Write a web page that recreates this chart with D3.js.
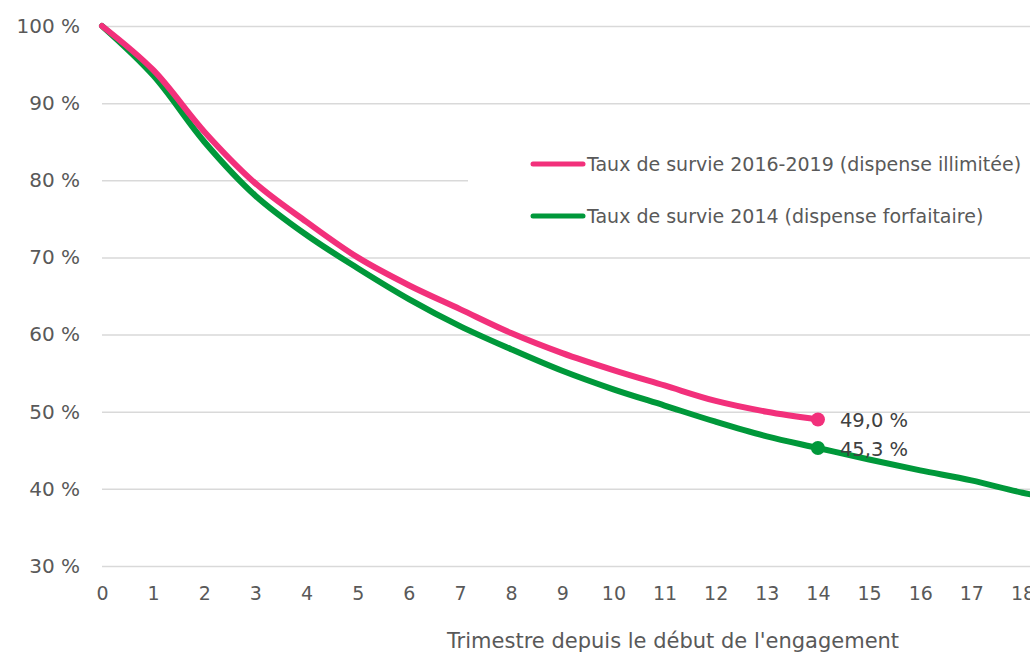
<!DOCTYPE html>
<html>
<head>
<meta charset="utf-8">
<script src="https://cdn.jsdelivr.net/npm/d3@7"></script>
<style>
  html, body { margin: 0; padding: 0; background: #fff; }
  svg { display: block; font-family: "DejaVu Sans", Verdana, sans-serif; }
</style>
</head>
<body>
<svg id="chart" width="1030" height="653"></svg>
<script>
// Survival rate per quarter since the start of the engagement
const quarters = [0, 1, 2, 3, 4, 5, 6, 7, 8, 9, 10, 11, 12, 13, 14, 15, 16, 17, 18, 19];
const survie2016_2019 = [100, 94.3, 86.3, 79.6, 74.6, 70.0, 66.4, 63.3, 60.2, 57.6, 55.4, 53.4, 51.4, 50.0, 49.0];
const survie2014 = [100, 93.6, 85.0, 78.0, 72.9, 68.6, 64.6, 61.1, 58.1, 55.3, 52.9, 50.8, 48.7, 46.8, 45.3, 43.8, 42.4, 41.1, 39.5, 38.2];
const yTicks = [30, 40, 50, 60, 70, 80, 90, 100];
const xTicks = [0, 1, 2, 3, 4, 5, 6, 7, 8, 9, 10, 11, 12, 13, 14, 15, 16, 17, 18];
const seriesNames = ["Taux de survie 2016-2019 (dispense illimitée)", "Taux de survie 2014 (dispense forfaitaire)"];
const endLabels = ["49,0 %", "45,3 %"];
const xTitle = "Trimestre depuis le début de l'engagement";

const pink = "#f2307b";
const green = "#00983a";
const textGrey = "#595959";

const svg = d3.select("#chart");

const x = d3.scaleLinear().domain([0, 18]).range([102, 1022.5]);
const y = d3.scaleLinear().domain([30, 100]).range([566, 26]);

const fmtPct = d => d + " %";

// Horizontal gridlines with percentage labels
const yAxis = d3.axisLeft(y).tickValues(yTicks).tickFormat(fmtPct)
  .tickSize(-(1030 - 102)).tickPadding(22);
const gy = svg.append("g").attr("transform", "translate(102,0)").call(yAxis);
gy.select(".domain").remove();
gy.selectAll(".tick line").attr("stroke", "#d9d9d9").attr("stroke-width", 1.5);
gy.selectAll(".tick text").attr("fill", textGrey).attr("font-size", 20)
  .attr("font-family", "DejaVu Sans, Verdana, sans-serif");

// Quarter labels
const xAxis = d3.axisBottom(x).tickValues(xTicks).tickFormat(d3.format("d"))
  .tickSize(0).tickPadding(21);
const gx = svg.append("g").attr("transform", "translate(0,566)").call(xAxis);
gx.select(".domain").remove();
gx.selectAll(".tick text").attr("fill", textGrey).attr("font-size", 19)
  .attr("font-family", "DejaVu Sans, Verdana, sans-serif");

svg.append("text")
  .attr("x", 673).attr("y", 648)
  .attr("text-anchor", "middle")
  .attr("fill", textGrey).attr("font-size", 21)
  .text(xTitle);

// Survival curves
const line = d3.line()
  .x((d, i) => x(quarters[i]))
  .y(d => y(d))
  .curve(d3.curveCatmullRom.alpha(0.5));

const series = [
  { values: survie2014, color: green },
  { values: survie2016_2019, color: pink }
];

svg.append("g").selectAll("path")
  .data(series)
  .join("path")
  .attr("d", s => line(s.values))
  .attr("fill", "none")
  .attr("stroke", s => s.color)
  .attr("stroke-width", 6)
  .attr("stroke-linejoin", "round")
  .attr("stroke-linecap", "round");

// End markers and value labels at quarter 14
const idx = 14;
const markers = [
  { v: survie2016_2019[idx], color: pink, label: endLabels[0] },
  { v: survie2014[idx], color: green, label: endLabels[1] }
];
svg.append("g").selectAll("circle")
  .data(markers)
  .join("circle")
  .attr("cx", x(quarters[idx]))
  .attr("cy", d => y(d.v))
  .attr("r", 7)
  .attr("fill", d => d.color);

svg.append("g").selectAll("text")
  .data(markers)
  .join("text")
  .attr("x", x(quarters[idx]) + 22)
  .attr("y", d => y(d.v) + 8)
  .attr("fill", "#404040")
  .attr("font-size", 19.5)
  .text(d => d.label);

// Legend with its own white background
const legend = svg.append("g");
legend.append("rect")
  .attr("x", 468).attr("y", 130).attr("width", 562).attr("height", 110)
  .attr("fill", "#fff");
const legendItems = [
  { name: seriesNames[0], color: pink, yy: 164 },
  { name: seriesNames[1], color: green, yy: 216 }
];
const li = legend.selectAll("g.item").data(legendItems).join("g").attr("class", "item");
li.append("line")
  .attr("x1", 533).attr("x2", 583)
  .attr("y1", d => d.yy).attr("y2", d => d.yy)
  .attr("stroke", d => d.color).attr("stroke-width", 5)
  .attr("stroke-linecap", "round");
li.append("text")
  .attr("x", 587).attr("y", d => d.yy + 7)
  .attr("fill", textGrey).attr("font-size", 19)
  .text(d => d.name);
</script>
</body>
</html>
